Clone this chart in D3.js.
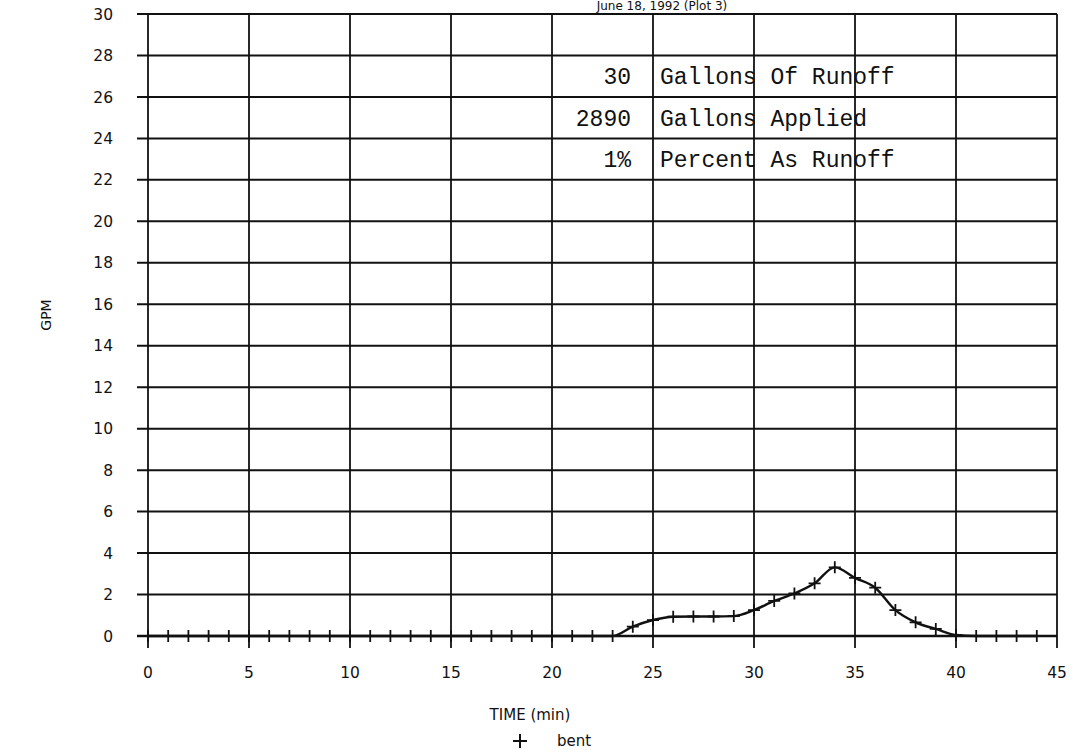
<!DOCTYPE html>
<html><head><meta charset="utf-8">
<script src="https://cdn.jsdelivr.net/npm/d3@7"></script>
<style>body{margin:0;background:#fff}svg{display:block}</style>
</head><body>
<svg id="c" width="1078" height="752"></svg>
<script>
const title = "June 18, 1992 (Plot 3)";
const times = [0,1,2,3,4,5,6,7,8,9,10,11,12,13,14,15,16,17,18,19,20,21,22,23,24,25,26,27,28,29,30,31,32,33,34,35,36,37,38,39,40,41,42,43,44];
const gpm   = [0,0,0,0,0,0,0,0,0,0,0,0,0,0,0,0,0,0,0,0,0,0,0,0,0.45,0.77,0.93,0.94,0.94,0.96,1.25,1.69,2.05,2.54,3.31,2.8,2.33,1.25,0.66,0.34,0.05,0,0,0,0];
const xTicks = [0,5,10,15,20,25,30,35,40,45];
const yTicks = [0,2,4,6,8,10,12,14,16,18,20,22,24,26,28,30];
const boxValues = ["30","2890","1%"];
const boxLabels = ["Gallons Of Runoff","Gallons Applied","Percent As Runoff"];
const boxRowsY = [27,25,23];
const seriesName = "bent";

const svg = d3.select("#c");
const L=148, R=1057, T=14, B=636;
const x = d3.scaleLinear().domain([0,45]).range([L,R]);
const y = d3.scaleLinear().domain([0,30]).range([B,T]);
const ink="#111";
const sans="DejaVu Sans, sans-serif";

// horizontal gridlines + y ticks
svg.append("g").selectAll("line").data(yTicks).join("line")
  .attr("x1",L-11).attr("x2",R).attr("y1",d=>y(d)).attr("y2",d=>y(d))
  .attr("stroke",ink).attr("stroke-width",d=>d===0?2.4:2);
// vertical gridlines
svg.append("g").selectAll("line").data(xTicks).join("line")
  .attr("x1",d=>x(d)).attr("x2",d=>x(d)).attr("y1",T).attr("y2",B+12)
  .attr("stroke",ink).attr("stroke-width",1.8);

// y labels
svg.append("g").selectAll("text").data(yTicks).join("text")
  .attr("x",113).attr("y",d=>y(d)).attr("dy","0.36em").attr("text-anchor","end")
  .attr("font-family",sans).attr("font-size",15.5).attr("fill",ink)
  .text(d=>d);
// x labels
svg.append("g").selectAll("text").data(xTicks).join("text")
  .attr("x",d=>x(d)).attr("y",678).attr("text-anchor","middle")
  .attr("font-family",sans).attr("font-size",15.5).attr("fill",ink)
  .text(d=>d);

// title
svg.append("text").attr("x",662).attr("y",10).attr("text-anchor","middle")
  .attr("font-family",sans).attr("font-size",12).attr("fill",ink).text(title);

// axis titles
svg.append("text").attr("transform","translate(51,315) rotate(-90)").attr("text-anchor","middle")
  .attr("font-family",sans).attr("font-size",14).attr("fill",ink).text("GPM");
svg.append("text").attr("x",530).attr("y",720).attr("text-anchor","middle")
  .attr("font-family",sans).attr("font-size",15).attr("fill",ink).text("TIME (min)");

// legend
svg.append("path").attr("d",`M${513},${741}h14M${520},${734}v14`).attr("stroke",ink).attr("stroke-width",2);
svg.append("text").attr("x",557).attr("y",746).attr("font-family",sans)
  .attr("font-size",15).attr("fill",ink).text(seriesName);

// text box
const g = svg.append("g").attr("font-family","Liberation Mono, Courier New, monospace").attr("font-size",23).attr("fill",ink);
g.selectAll("text.v").data(boxValues).join("text").attr("class","v")
  .attr("x",631).attr("y",(d,i)=>y(boxRowsY[i])).attr("dy","0.35em").attr("text-anchor","end").text(d=>d);
g.selectAll("text.l").data(boxLabels).join("text").attr("class","l")
  .attr("x",660).attr("y",(d,i)=>y(boxRowsY[i])).attr("dy","0.35em").text(d=>d);

// data line
const pts = times.map((t,i)=>[t,gpm[i]]);
svg.append("path").datum(pts)
  .attr("d",d3.line().x(d=>x(d[0])).y(d=>y(d[1])).curve(d3.curveMonotoneX))
  .attr("fill","none").attr("stroke",ink).attr("stroke-width",2.4);
// markers
svg.append("g").selectAll("path").data(pts).join("path")
  .attr("d",d=>{const cx=x(d[0]),cy=y(d[1]);return `M${cx-6},${cy}h12M${cx},${cy-6}v12`;})
  .attr("stroke",ink).attr("stroke-width",1.8);
</script>
</body></html>
